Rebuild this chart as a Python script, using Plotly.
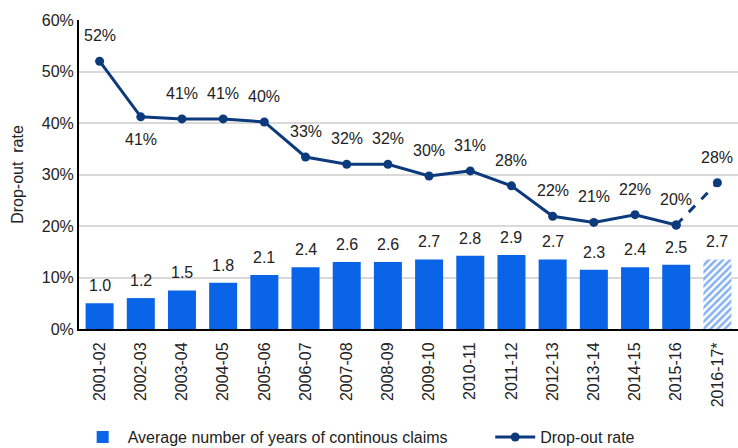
import plotly.graph_objects as go

categories = ["2001-02", "2002-03", "2003-04", "2004-05", "2005-06", "2006-07", "2007-08",
              "2008-09", "2009-10", "2010-11", "2011-12", "2012-13", "2013-14", "2014-15",
              "2015-16", "2016-17*"]
avg_years = [1.0, 1.2, 1.5, 1.8, 2.1, 2.4, 2.6, 2.6, 2.7, 2.84, 2.87, 2.7, 2.3, 2.4, 2.5, 2.7]
dropout = [0.52, 0.412, 0.408, 0.408, 0.402, 0.334, 0.32, 0.32, 0.297, 0.307, 0.278,
           0.219, 0.207, 0.222, 0.202, 0.284]
label_below = [False, True] + [False] * 14

BAR = "#0a64e8"
LINE = "#0c3a7c"
FONT = "Liberation Sans, Arial, sans-serif"
TXT = "#222"

fig = go.Figure()

bar_patterns = [""] * (len(categories) - 1) + ["/"]
fig.add_trace(go.Bar(
    x=categories, y=avg_years, yaxis="y",
    name="Average number of years of continous claims", legend="legend",
    marker=dict(color=BAR, line=dict(width=0),
                pattern=dict(shape=bar_patterns, fgcolor=BAR, bgcolor="white", size=5, solidity=0.5)),
    width=0.68,
))

n = len(categories)
fig.add_trace(go.Scatter(
    x=categories[n - 2:], y=dropout[n - 2:], yaxis="y2", mode="lines+markers",
    line=dict(color=LINE, width=3, dash="dash"), marker=dict(size=9, color=LINE),
    showlegend=False, hoverinfo="skip",
))
fig.add_trace(go.Scatter(
    x=categories[:n - 1], y=dropout[:n - 1], yaxis="y2", mode="lines+markers",
    name="Drop-out rate", legend="legend2",
    line=dict(color=LINE, width=3), marker=dict(size=9, color=LINE),
))

annotations = []
for c, v in zip(categories, avg_years):
    annotations.append(dict(x=c, y=v, xref="x", yref="y", text=f"{v:.1f}", showarrow=False,
                            yanchor="bottom", yshift=7, font=dict(size=16, color=TXT)))
for c, v, below in zip(categories, dropout, label_below):
    annotations.append(dict(x=c, y=v, xref="x", yref="y2", text=f"{round(v * 100):.0f}%",
                            showarrow=False, yanchor="top" if below else "bottom",
                            yshift=-12 if below else 15, font=dict(size=16, color=TXT)))

fig.update_layout(
    width=738, height=448,
    margin=dict(l=79, r=0, t=20, b=119, autoexpand=False),
    paper_bgcolor="white", plot_bgcolor="white",
    font=dict(family=FONT, size=16, color=TXT),
    xaxis=dict(type="category", range=[-0.5, len(categories) - 0.5], tickangle=-90,
               showline=True, linecolor="black", linewidth=2, ticklabelstandoff=5,
               ticks="", tickfont=dict(size=16), showgrid=False, automargin=False),
    yaxis=dict(range=[0, 12], visible=False, automargin=False),
    yaxis2=dict(range=[0, 0.6], overlaying="y", side="left", tickformat=".0%", dtick=0.1,
                showgrid=True, gridcolor="#d9d9d9", gridwidth=1.5,
                showline=True, linecolor="black", linewidth=2, zeroline=False,
                title=dict(text="Drop-out  rate", font=dict(size=16), standoff=14),
                tickfont=dict(size=16), automargin=False),
    legend=dict(orientation="h", x=-0.002, xanchor="left", y=-0.35, yanchor="middle",
                font=dict(size=16), itemwidth=40),
    legend2=dict(orientation="h", x=0.624, xanchor="left", y=-0.35, yanchor="middle",
                 font=dict(size=16), itemwidth=40),
    annotations=annotations,
)

fig.write_html("out.html", config={"displayModeBar": False},
               post_script="document.body.style.margin='0';")
